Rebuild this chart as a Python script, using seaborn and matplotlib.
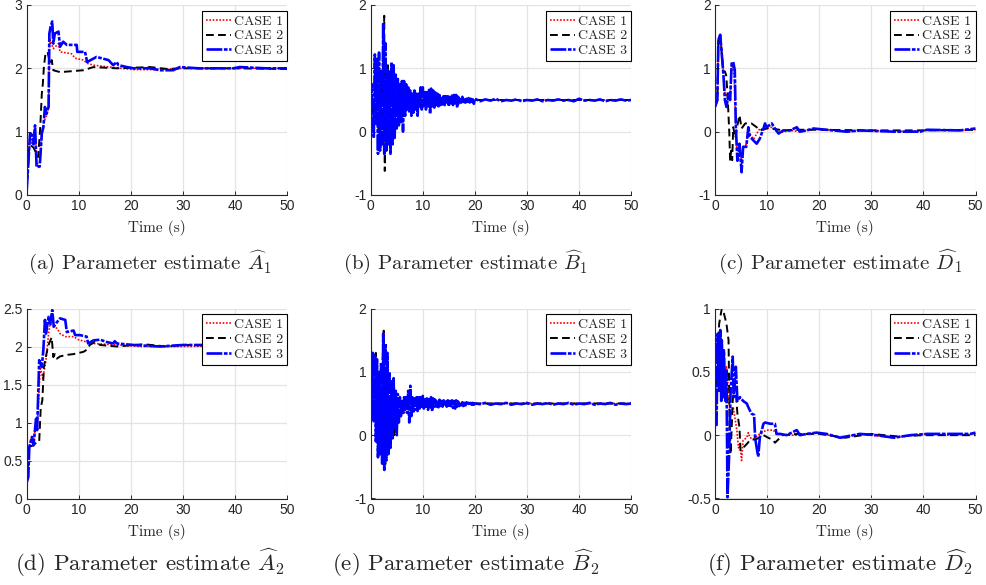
import matplotlib
matplotlib.use("Agg")
import matplotlib.pyplot as plt
import matplotlib.ticker as mticker
import numpy as np
import pandas as pd
import seaborn as sns

# values (time in s, estimate value)

# (a) A1
A1_c1_t = [0, 0.6, 1.0, 1.6, 1.9, 2.5, 2.9, 3.2, 3.5, 3.8, 4.2, 4.35, 4.5, 5.1, 6.1, 6.4, 8.6, 9.3, 10.9, 11.6, 12.8, 16, 20.5, 25, 30, 35, 40, 45, 50]
A1_c1_y = [0.07, 0.95, 0.8, 1.05, 0.5, 0.5, 1.0, 1.1, 1.2, 1.25, 1.4, 2.3, 2.45, 2.31, 2.39, 2.26, 2.23, 2.16, 2.13, 2.08, 2.05, 2.02, 1.98, 1.98, 2.0, 2.0, 2.0, 2.0, 2.0]
A1_c2_t = [0, 0.5, 1.3, 1.9, 2.2, 2.6, 2.9, 3.1, 3.3, 3.6, 4.0, 4.5, 4.8, 5.1, 6.4, 10.9, 12.8, 17.3, 23.7, 27, 30, 40, 50]
A1_c2_y = [0.07, 0.8, 0.75, 0.65, 0.6, 1.07, 1.6, 1.76, 2.02, 2.23, 2.26, 2.08, 2.13, 1.97, 1.94, 1.97, 2.02, 2.0, 2.02, 1.99, 2.0, 2.0, 1.99]
A1_c3_t = [0, 0.64, 1.0, 1.3, 1.6, 1.9, 2.5, 2.9, 3.2, 3.5, 3.8, 4.2, 4.35, 4.6, 4.9, 5.1, 5.4, 6.1, 6.4, 7.0, 7.7, 8.6, 9.6, 9.7, 11.2, 11.6, 13.4, 15.7, 16.6, 17.3, 17.6, 19.2, 20.5, 23.7, 25.6, 28.1, 29.4, 33, 39.6, 40.9, 46, 50]
A1_c3_y = [0.07, 0.97, 0.95, 0.8, 1.1, 0.44, 0.45, 0.97, 1.07, 1.39, 1.28, 1.39, 2.55, 2.66, 2.74, 2.39, 2.55, 2.58, 2.34, 2.42, 2.37, 2.37, 2.37, 2.26, 2.26, 2.1, 2.18, 2.13, 2.05, 2.1, 2.05, 2.02, 2.0, 2.0, 1.97, 1.97, 2.02, 2.0, 2.0, 2.02, 2.0, 2.0]

# (b) B1
B1_c1_t = [0, 1, 2, 3, 4, 5, 6, 8, 10, 15, 20, 30, 40, 50]
B1_c1_y = [0.6, 0.9, 0.2, 1.0, 0.1, 0.7, 0.4, 0.5, 0.5, 0.5, 0.5, 0.5, 0.5, 0.5]
B1_c2_t = [0, 0.5, 1.0, 1.5, 2.0, 2.2, 2.4, 2.6, 2.7, 2.9, 3.1, 3.3, 3.5, 4, 5, 6, 8, 10, 15, 20, 30, 40, 50]
B1_c2_y = [0.6, 0.2, 1.0, 0.0, 0.97, -0.2, 1.2, 1.83, -0.62, 1.0, -0.25, 1.05, -0.2, 0.8, 0.3, 0.6, 0.45, 0.55, 0.5, 0.5, 0.5, 0.5, 0.5]
B1_c3_y = [0.55, 0.75, 0.2, -0.1, 1.22, 0.1, 1.15, -0.35, 1.25, -0.3,
           0.95, -0.2, 1.72, -0.35, 1.4, -0.3, 1.0, -0.2, 0.95, -0.35,
           1.1, -0.2, 1.05, -0.1, 0.9, 0.05, 0.85, 0.1, 0.75, 0.15,
           0.8, 0.0, 0.8, 0.25, 0.75, 0.35, 0.7, 0.3, 0.65, 0.25,
           0.6, 0.3, 0.65, 0.35, 0.6, 0.25, 0.6, 0.4, 0.7, 0.35,
           0.7, 0.4, 0.65, 0.35, 0.62, 0.4, 0.66, 0.28, 0.68, 0.4,
           0.65, 0.38, 0.62, 0.42, 0.6, 0.4, 0.58, 0.42, 0.56, 0.43,
           0.58, 0.42, 0.56, 0.44, 0.56, 0.4, 0.55, 0.45, 0.57, 0.42,
           0.58, 0.45, 0.58, 0.38, 0.55, 0.45, 0.54, 0.46, 0.55, 0.44,
           0.53, 0.46, 0.52, 0.47, 0.53, 0.46, 0.52, 0.47, 0.51, 0.44,
           0.52, 0.48, 0.51, 0.49, 0.52, 0.48, 0.5, 0.49, 0.51, 0.48,
           0.5, 0.49, 0.51, 0.48, 0.5, 0.49, 0.51, 0.49, 0.5, 0.48,
           0.52, 0.49, 0.5, 0.49, 0.51, 0.48, 0.5, 0.49, 0.51, 0.49, 0.5]

# (c) D1
D1_c1_t = [0, 0.45, 0.65, 1.0, 1.3, 1.6, 1.9, 2.3, 2.6, 2.9, 3.2, 3.5, 3.7, 4.0, 4.3, 4.7, 5.1, 5.4, 6.0, 6.4, 7.4, 8.6, 9.3, 10.8, 12.2, 14.4, 16.3, 18.9, 21.4, 25.3, 30, 34.3, 40.7, 47, 50]
D1_c1_y = [0.39, 0.5, 1.45, 1.53, 1.23, 0.92, 0.6, 0.57, 0.6, 0.5, 1.05, 1.0, 0.84, 0.07, -0.4, -0.22, -0.5, -0.24, -0.2, 0.0, -0.12, 0.05, 0.03, 0.07, -0.02, 0.02, 0.0, 0.04, 0.03, 0.0, 0.02, 0.0, 0.02, 0.02, 0.03]
D1_c2_t = [0, 0.45, 0.65, 1.0, 1.3, 1.6, 1.9, 2.15, 2.4, 2.75, 2.9, 3.1, 3.3, 3.5, 3.9, 4.3, 4.7, 5.1, 5.8, 7.0, 8.0, 8.6, 9.9, 11, 13, 16, 20, 30, 40, 50]
D1_c2_y = [0.39, 0.5, 1.45, 1.53, 1.23, 0.95, 0.95, 0.89, 0.6, -0.03, -0.46, -0.3, -0.45, 0.07, -0.1, 0.1, 0.26, 0.05, 0.13, 0.13, 0.07, 0.02, 0.05, 0.05, 0.02, 0.03, 0.03, 0.02, 0.02, 0.03]
D1_c3_t = [0, 0.45, 0.65, 1.0, 1.3, 1.6, 1.9, 2.2, 2.6, 2.9, 3.2, 3.5, 3.8, 4.0, 4.3, 4.7, 5.1, 5.4, 6.0, 6.4, 6.7, 7.4, 8.0, 8.6, 9.3, 9.6, 9.9, 10.9, 11.5, 12.2, 13.1, 14.4, 15.7, 16.3, 17.6, 18.9, 21.4, 25.3, 27.8, 34.3, 39.4, 40.7, 47, 50]
D1_c3_y = [0.39, 0.5, 1.45, 1.53, 1.23, 0.92, 0.5, 0.39, 0.6, 0.5, 1.08, 1.1, 0.97, 0.07, -0.46, -0.19, -0.64, -0.24, -0.24, 0.07, -0.08, -0.14, -0.19, -0.11, 0.05, 0.13, 0.07, 0.13, 0.05, -0.03, 0.02, 0.02, 0.07, 0.0, 0.02, 0.05, 0.03, 0.0, 0.02, 0.0, 0.0, 0.03, 0.02, 0.05]

# (d) A2
A2_c1_t = [0, 0.3, 0.5, 1.0, 1.3, 1.8, 2.0, 2.6, 3.1, 3.7, 4.2, 4.5, 5.1, 5.8, 6.4, 7.4, 9.0, 9.9, 11.5, 12.8, 17.3, 21.7, 30, 40, 50]
A2_c1_y = [0.21, 0.28, 0.68, 0.81, 0.7, 1.05, 0.9, 1.73, 1.58, 1.82, 2.17, 2.3, 2.26, 2.24, 2.17, 2.13, 2.13, 2.09, 2.06, 2.04, 2.02, 2.0, 2.0, 2.01, 2.0]
A2_c2_t = [0, 0.5, 1.3, 1.6, 2.0, 2.4, 2.7, 3.0, 3.3, 3.6, 4.0, 4.3, 4.8, 5.1, 5.4, 5.8, 6.4, 7.7, 9.0, 10.9, 11.6, 12.1, 13.1, 14.1, 17.3, 22.4, 26.9, 30, 40, 50]
A2_c2_y = [0.21, 0.68, 0.7, 0.72, 0.75, 0.75, 1.2, 1.29, 1.73, 1.84, 1.97, 2.04, 2.12, 1.86, 1.9, 1.84, 1.87, 1.89, 1.9, 1.93, 1.96, 2.02, 2.06, 2.02, 2.0, 2.03, 2.0, 2.02, 2.01, 1.99]
A2_c3_t = [0, 0.3, 0.5, 1.0, 1.3, 1.8, 2.0, 2.4, 2.9, 3.2, 3.5, 3.7, 4.2, 4.5, 4.9, 5.2, 5.8, 6.4, 7.4, 7.7, 9.0, 9.3, 10.2, 11.5, 11.8, 12.8, 14.1, 15.3, 16.6, 16.9, 17.3, 20.5, 25.6, 30, 39.6, 49.2, 50]
A2_c3_y = [0.21, 0.28, 0.68, 0.81, 0.7, 1.05, 0.9, 1.82, 1.73, 1.96, 2.35, 2.17, 2.39, 2.3, 2.48, 2.26, 2.32, 2.37, 2.35, 2.19, 2.21, 2.15, 2.15, 2.13, 2.04, 2.08, 2.09, 2.06, 2.04, 2.07, 2.04, 2.02, 2.0, 2.02, 2.02, 2.01, 2.02]

# (e) B2
B2_c1_t = [0, 1, 2, 3, 4, 5, 6, 6.5, 6.7, 7, 8, 10, 15, 20, 30, 40, 50]
B2_c1_y = [0.5, 0.9, 0.1, 0.8, 0.2, 0.6, 0.5, 0.35, 0.55, 0.45, 0.5, 0.5, 0.5, 0.5, 0.5, 0.5, 0.5]
B2_c2_t = [0, 0.5, 1.0, 1.3, 1.6, 2.0, 2.3, 2.5, 2.8, 3.1, 3.5, 4.0, 4.5, 5, 6, 7, 8, 10, 15, 20, 30, 40, 50]
B2_c2_y = [0.5, 1.2, 1.3, -0.1, 1.0, -0.3, 1.2, 1.65, -0.5, 1.2, -0.25, 0.8, 0.0, 0.6, 0.4, 0.55, 0.45, 0.5, 0.5, 0.5, 0.5, 0.5, 0.5]
B2_c3_y = [0.5, 0.25, 1.3, 0.2, 1.28, -0.1, 1.2, -0.35, 1.0, -0.3,
           1.15, -0.45, 1.6, -0.55, 1.45, -0.4, 1.3, -0.3, 1.0, -0.2,
           0.85, -0.05, 0.9, 0.1, 0.7, 0.0, 0.65, 0.2, 0.6, 0.3,
           0.55, 0.35, 0.6, 0.4, 0.6, 0.35, 0.7, 0.2, 0.78, 0.3,
           0.6, 0.35, 0.58, 0.4, 0.6, 0.38, 0.62, 0.42, 0.6, 0.45,
           0.62, 0.42, 0.6, 0.45, 0.58, 0.4, 0.57, 0.44, 0.6, 0.38,
           0.58, 0.45, 0.56, 0.45, 0.55, 0.44, 0.56, 0.46, 0.54, 0.45,
           0.55, 0.46, 0.53, 0.45, 0.55, 0.44, 0.54, 0.46, 0.55, 0.43,
           0.54, 0.42, 0.55, 0.45, 0.53, 0.46, 0.52, 0.47, 0.52, 0.46,
           0.51, 0.47, 0.52, 0.48, 0.51, 0.47, 0.51, 0.48, 0.51, 0.48,
           0.5, 0.49, 0.51, 0.48, 0.5, 0.49, 0.51, 0.48, 0.5, 0.49,
           0.51, 0.48, 0.5, 0.49, 0.51, 0.48, 0.5, 0.49, 0.51, 0.48,
           0.5, 0.49, 0.51, 0.48, 0.5, 0.49, 0.51, 0.48, 0.5, 0.49, 0.5]

# (f) D2
D2_c1_t = [0, 0.3, 0.5, 0.8, 1.0, 1.2, 1.3, 1.6, 1.7, 2.0, 2.2, 2.6, 2.9, 3.5, 4.2, 4.5, 4.8, 5.1, 5.4, 6.1, 6.4, 6.7, 7.4, 8.6, 9.9, 11.2, 11.8, 13.8, 16.3, 19.5, 24, 27.8, 34.3, 40.7, 45, 50]
D2_c1_y = [0.09, 0.08, 0.8, 0.35, 0.83, 0.27, 0.75, 0.3, 0.67, 0.27, 0.54, 0.35, 0.14, 0.22, 0.04, -0.1, -0.07, -0.2, -0.04, -0.02, 0.02, -0.02, -0.03, 0.01, 0.04, 0.04, 0.01, 0.0, 0.0, 0.02, -0.02, 0.01, -0.02, 0.01, 0.0, 0.01]
D2_c2_t = [0, 0.45, 0.8, 1.3, 1.6, 1.9, 2.2, 2.6, 2.8, 3.0, 3.4, 3.6, 4.0, 4.3, 4.7, 4.9, 5.4, 6.1, 6.7, 8.0, 9.3, 10.2, 11.2, 11.5, 13, 16, 20, 25, 30, 35, 40, 45, 50]
D2_c2_y = [0.09, 0.62, 0.88, 1.0, 0.98, 0.93, 0.88, 0.75, 0.09, -0.15, 0.27, 0.38, 0.33, 0.17, 0.06, -0.12, -0.1, -0.07, -0.04, -0.03, 0.0, -0.02, -0.04, -0.06, 0.0, 0.01, 0.01, -0.02, 0.01, -0.01, 0.0, 0.0, 0.0]
D2_c3_t = [0, 0.3, 0.5, 0.8, 1.0, 1.2, 1.3, 1.6, 1.7, 2.0, 2.2, 2.4, 2.7, 3.0, 3.4, 3.6, 4.0, 4.3, 4.8, 5.4, 6.1, 6.4, 7.0, 7.5, 7.7, 8.0, 8.3, 8.6, 9.3, 9.6, 10.6, 11.5, 11.8, 12.5, 13.8, 14.7, 15.7, 16.3, 17.6, 19.5, 21.4, 24, 27.8, 31, 34.3, 37.5, 40.7, 45, 49, 50]
D2_c3_y = [0.09, 0.08, 0.8, 0.35, 0.83, 0.27, 0.75, 0.3, 0.67, 0.27, 0.51, -0.49, -0.17, 0.35, 0.62, 0.3, 0.54, 0.27, 0.3, 0.27, 0.25, 0.22, 0.17, 0.16, -0.02, -0.1, -0.17, -0.02, 0.09, 0.1, 0.09, 0.09, 0.01, 0.01, 0.0, 0.02, 0.04, 0.0, 0.01, 0.02, 0.01, -0.02, 0.01, 0.0, -0.02, 0.0, 0.01, 0.01, 0.01, 0.02]

# sample times for the heavily oscillating B estimates
t_osc = np.concatenate([np.round(np.arange(0, 20, 0.2), 1), np.arange(20, 51, 1.0)])

cases = ["CASE 1", "CASE 2", "CASE 3"]
colors = ["red", "black", "blue"]
styles = [(0, (1, 1)), (0, (4, 2.2)), (0, (6, 0.6, 1.4, 0.6))]
widths = [1.2, 1.4, 1.9]

panels = [
    ("(a) Parameter estimate $\\widehat{A}_1$", [(A1_c1_t, A1_c1_y), (A1_c2_t, A1_c2_y), (A1_c3_t, A1_c3_y)], (0, 3), [0, 1, 2, 3]),
    ("(b) Parameter estimate $\\widehat{B}_1$", [(B1_c1_t, B1_c1_y), (B1_c2_t, B1_c2_y), (t_osc, B1_c3_y)], (-1, 2), [-1, 0, 1, 2]),
    ("(c) Parameter estimate $\\widehat{D}_1$", [(D1_c1_t, D1_c1_y), (D1_c2_t, D1_c2_y), (D1_c3_t, D1_c3_y)], (-1, 2), [-1, 0, 1, 2]),
    ("(d) Parameter estimate $\\widehat{A}_2$", [(A2_c1_t, A2_c1_y), (A2_c2_t, A2_c2_y), (A2_c3_t, A2_c3_y)], (0, 2.5), [0, 0.5, 1, 1.5, 2, 2.5]),
    ("(e) Parameter estimate $\\widehat{B}_2$", [(B2_c1_t, B2_c1_y), (B2_c2_t, B2_c2_y), (t_osc, B2_c3_y)], (-1, 2), [-1, 0, 1, 2]),
    ("(f) Parameter estimate $\\widehat{D}_2$", [(D2_c1_t, D2_c1_y), (D2_c2_t, D2_c2_y), (D2_c3_t, D2_c3_y)], (-0.5, 1), [-0.5, 0, 0.5, 1]),
]

sns.set_theme(style="white")
plt.rcParams["font.family"] = ["Liberation Sans", "DejaVu Sans"]
plt.rcParams["mathtext.fontset"] = "cm"
plt.rcParams["axes.unicode_minus"] = False

W, H = 986, 585
fig = plt.figure(figsize=(W / 100, H / 100), dpi=100)

## axes boxes in pixels: left, top, right, bottom
lefts = [26.7, 370.7, 715]
tops = [5, 308.5]
ax_w, ax_h = 260.5, 190
cap_x = [150, 466, 840]
cap_y = [262, 563]
cap_size = [15, 16.5]

for i, (caption, lines, ylim, yticks) in enumerate(panels):
    r, c = divmod(i, 3)
    ax = fig.add_axes([lefts[c] / W, 1 - (tops[r] + ax_h) / H, ax_w / W, ax_h / H])
    for k, (t, y) in enumerate(lines):
        df = pd.DataFrame({"t": t, "y": y})
        sns.lineplot(data=df, x="t", y="y", ax=ax, estimator=None, sort=False,
                     color=colors[k], linestyle=styles[k], linewidth=widths[k], label=cases[k])
    ax.set_xlim(0, 50)
    ax.set_ylim(*ylim)
    ax.set_xticks([0, 10, 20, 30, 40, 50])
    ax.set_yticks(yticks)
    ax.yaxis.set_major_formatter(mticker.FuncFormatter(lambda v, p: "%g" % v))
    ax.grid(True, color="#e3e3e3", linewidth=0.9)
    ax.set_axisbelow(True)
    for s in ["top", "right"]:
        ax.spines[s].set_visible(False)
    for s in ["left", "bottom"]:
        ax.spines[s].set_color("#262626")
        ax.spines[s].set_linewidth(0.8)
    ax.tick_params(direction="in", length=3, width=0.7, colors="#262626", labelsize=10, pad=3,
                   left=True, bottom=True)
    ax.set_xlabel("Time (s)", family="cmr10", fontsize=11, color="#262626", labelpad=5)
    ax.set_ylabel("")
    leg = ax.legend(loc="upper right", bbox_to_anchor=(1.0, 0.97), prop={"family": "cmr10", "size": 10},
                    frameon=True, fancybox=False, framealpha=1, edgecolor="black", borderaxespad=0,
                    handlelength=1.8, handletextpad=0.2, labelspacing=0.15, borderpad=0.3)
    leg.get_frame().set_linewidth(0.8)
    fig.text(cap_x[c] / W, 1 - cap_y[r] / H, caption, ha="center", va="center",
             family="cmr10", fontsize=cap_size[r])

fig.savefig("out.png", dpi=100)
